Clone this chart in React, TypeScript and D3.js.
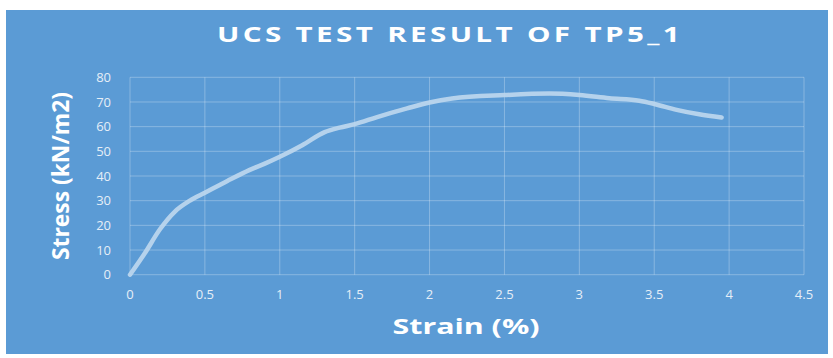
import React from "react";
import * as d3 from "d3";

// Stress–strain readings for specimen TP5_1
const strain = [0, 0.1, 0.2, 0.3, 0.4, 0.5, 0.65, 0.8, 0.9, 1.0, 1.15, 1.3, 1.4, 1.5, 1.65, 1.85, 2.0, 2.15, 2.5, 2.8, 3.0, 3.2, 3.4, 3.5, 3.65, 3.8, 3.95];
const stress = [0, 8.8, 18.4, 25.6, 30, 33.2, 38, 42.5, 45, 47.8, 52.5, 57.8, 59.6, 61, 63.9, 67.4, 69.8, 71.4, 72.8, 73.4, 72.8, 71.5, 70.5, 69.2, 66.8, 65, 63.7];

const xTicks = [0, 0.5, 1, 1.5, 2, 2.5, 3, 3.5, 4, 4.5];
const yTicks = [0, 10, 20, 30, 40, 50, 60, 70, 80];

const W = 833;
const H = 358;
const BG = "#5b9bd5";
const FONT = "'Open Sans', 'Noto Sans', sans-serif";

export default function App() {
  const x = d3.scaleLinear().domain([0, 4.5]).range([130, 804]);
  const y = d3.scaleLinear().domain([0, 80]).range([274.7, 77.3]);

  const pts: [number, number][] = strain.map((s, i) => [s, stress[i]]);
  const line = d3
    .line<[number, number]>()
    .x((d) => x(d[0]))
    .y((d) => y(d[1]))
    .curve(d3.curveMonotoneX);

  const grid = "rgba(255,255,255,0.28)";
  const tickColor = "#e6eef7";

  return (
    <div style={{ position: "absolute", left: 0, top: 0 }}>
      <svg width={W} height={H} style={{ display: "block" }}>
        <rect x={0} y={0} width={W} height={H} fill="#ffffff" />
        <rect x={6} y={10} width={822} height={344} fill={BG} />

        {yTicks.map((t) => (
          <line key={"gy" + t} x1={x(0)} x2={x(4.5)} y1={y(t)} y2={y(t)} stroke={grid} strokeWidth={1} />
        ))}
        {xTicks.map((t) => (
          <line key={"gx" + t} x1={x(t)} x2={x(t)} y1={y(0)} y2={y(80)} stroke={grid} strokeWidth={1} />
        ))}

        {yTicks.map((t) => (
          <text
            key={"ty" + t}
            x={111}
            y={y(t)}
            dy="0.35em"
            textAnchor="end"
            fill={tickColor}
            fontFamily={FONT}
            fontSize={13}
          >
            {t}
          </text>
        ))}
        {xTicks.map((t) => (
          <text
            key={"tx" + t}
            x={x(t)}
            y={294}
            dy="0.35em"
            textAnchor="middle"
            fill={tickColor}
            fontFamily={FONT}
            fontSize={13}
          >
            {t}
          </text>
        ))}

        <path d={line(pts) ?? ""} fill="none" stroke="#bdd7ee" strokeOpacity={0.92} strokeWidth={4.5} strokeLinecap="round" strokeLinejoin="round" />

        <text
          x={450}
          y={42}
          textAnchor="middle"
          fill="#ffffff"
          fontFamily={FONT}
          fontWeight={700}
          fontSize={22}
          letterSpacing={2.5}
          textLength={466}
          lengthAdjust="spacingAndGlyphs"
        >
          UCS TEST RESULT OF TP5_1
        </text>

        <text
          x={466}
          y={334}
          textAnchor="middle"
          fill="#ffffff"
          fontFamily={FONT}
          fontWeight={700}
          fontSize={22}
          textLength={147}
          lengthAdjust="spacingAndGlyphs"
        >
          Strain (%)
        </text>

        <text
          transform="translate(69,176) rotate(-90)"
          textAnchor="middle"
          fill="#ffffff"
          fontFamily={FONT}
          fontWeight={700}
          fontSize={23}
          textLength={168}
          lengthAdjust="spacingAndGlyphs"
        >
          Stress (kN/m2)
        </text>
      </svg>
    </div>
  );
}
